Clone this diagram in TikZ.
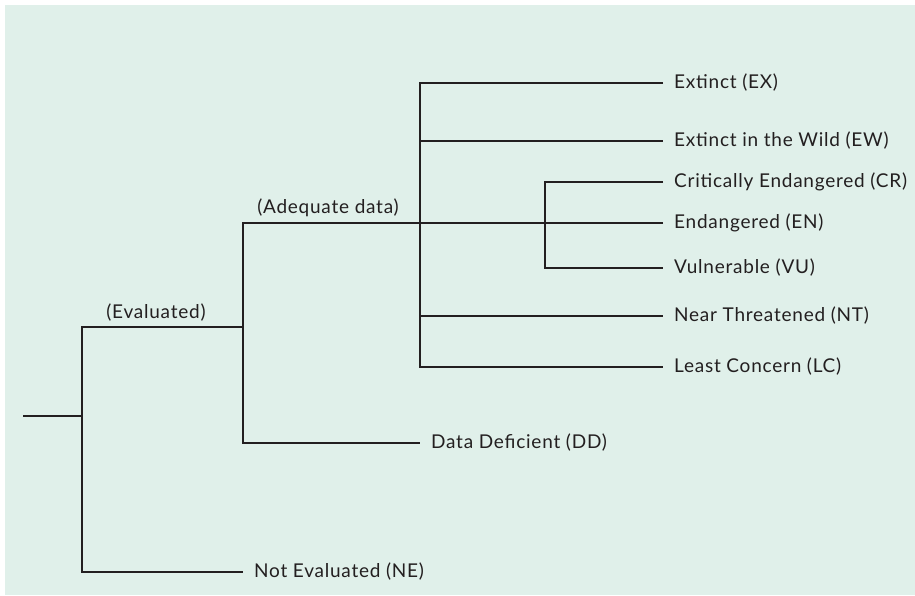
\documentclass[tikz,border=0pt]{standalone}
\usepackage{fontspec}
\setmainfont[LetterSpace=4]{Lato}
\definecolor{bgmint}{HTML}{E0F0EA}
\definecolor{ink}{HTML}{231F20}
\tikzset{
  tree/.style={draw=ink, line width=2.4pt, line join=miter},
  leaf/.style={anchor=west, inner xsep=11pt, inner ysep=0pt, text=ink, font=\fontsize{19}{22}\selectfont},
  branchlabel/.style={anchor=south, inner sep=0pt, text=ink, font=\fontsize{19}{22}\selectfont}
}
\begin{document}
\begin{tikzpicture}[x=1pt,y=-1pt]
\useasboundingbox (0,0) rectangle (915,595);
\fill[bgmint] (5,5) rectangle (915,595);
% junction coordinates
\coordinate (root) at (23,416);
\coordinate (j1) at (82,416);
\coordinate (j1t) at (82,327);
\coordinate (j1b) at (82,572);
\coordinate (j2) at (243,327);
\coordinate (j2t) at (243,223);
\coordinate (j2b) at (243,443);
\coordinate (j3t) at (420,83);
\coordinate (j3b) at (420,367);
\coordinate (j4t) at (545,182);
\coordinate (j4b) at (545,268);
% leaves
\node[leaf] (ex) at (663,83) {Extinct (EX)};
\node[leaf] (ew) at (663,141) {Extinct in the Wild (EW)};
\node[leaf] (cr) at (663,182) {Critically Endangered (CR)};
\node[leaf] (en) at (663,223) {Endangered (EN)};
\node[leaf] (vu) at (663,268) {Vulnerable (VU)};
\node[leaf] (nt) at (663,316) {Near Threatened (NT)};
\node[leaf] (lc) at (663,367) {Least Concern (LC)};
\node[leaf] (dd) at (420,443) {Data Deficient (DD)};
\node[leaf] (ne) at (243,572) {Not Evaluated (NE)};
% branch labels
\node[branchlabel] (evl) at (156,321) {(Evaluated)};
\node[branchlabel] (adl) at (328,217) {(Adequate data)};
% tree
\draw[tree] (root) -- (j1);
\draw[tree] (j2) -| (j1t) -- (j1b) -- (ne.west);
\draw[tree] (en.west) -- (j2t) -- (j2b) -- (dd.west);
\draw[tree] (j2t) -- (j2);
\draw[tree] (ex.west) -| (j3t) -- (j3b) -- (lc.west);
\draw[tree] (j3t |- ew.west) -- (ew.west);
\draw[tree] (j3t |- nt.west) -- (nt.west);
\draw[tree] (cr.west) -| (j4t) -- (j4b) -- (vu.west);
\end{tikzpicture}
\end{document}
